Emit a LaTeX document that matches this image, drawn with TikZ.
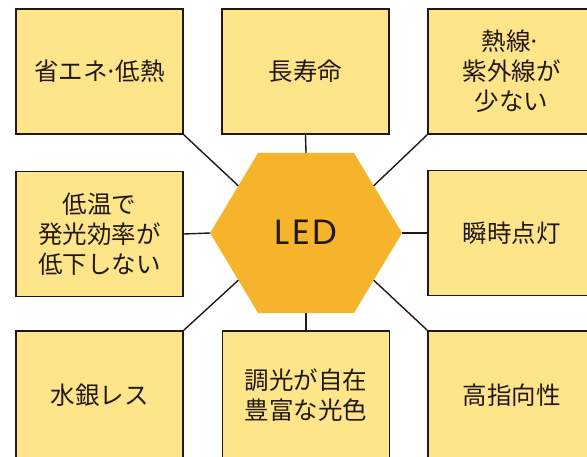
\documentclass[tikz,border=0pt]{standalone}
\usepackage{fontspec}
\setmainfont{Noto Sans CJK JP}
\newfontfamily\ledfont[LetterSpace=6]{Poppins}
\usetikzlibrary{calc}
\definecolor{ink}{HTML}{231815}
\definecolor{boxfill}{HTML}{FFE58A}
\definecolor{hexfill}{HTML}{F6B42D}
\newcommand{\tightdot}{\kern-3bp·\kern-3bp}
\tikzset{
  featbox/.style={draw=ink, line width=1.5bp, fill=boxfill, minimum width=167bp, minimum height=125bp,
    inner sep=0pt, align=center, text=ink, font=\fontsize{24.5bp}{30bp}\selectfont},
  tallbox/.style={featbox, minimum height=128bp},
  conn/.style={draw=ink, line width=1.4bp}
}
\begin{document}
\begin{tikzpicture}[x=1bp,y=-1bp]
\useasboundingbox (0,0) rectangle (587,457);
% hexagon
\coordinate (hL) at (210,233);
\coordinate (hTL) at (258,153);
\coordinate (hTR) at (354,153);
\coordinate (hR) at (402,233);
\coordinate (hBR) at (354,313);
\coordinate (hBL) at (258,313);
\fill[hexfill] (hL) -- (hTL) -- (hTR) -- (hR) -- (hBR) -- (hBL) -- cycle;
\node[text=ink, font=\ledfont\fontsize{35bp}{40bp}\selectfont] (led) at (306,232) {LED};
% boxes
\node[featbox] (tl) at (99.5,71.5) {省エネ\tightdot 低熱};
\node[featbox] (tm) at (305.5,71.5) {長寿命};
\node[featbox] (tr) at (511.5,71.5) {熱線\kern-3bp·\\紫外線が\\少ない};
\node[featbox] (ml) at (99.5,234) {低温で\\発光効率が\\低下しない};
\node[featbox] (mr) at (511.5,233) {瞬時点灯};
\node[tallbox] (bl) at (99.5,395) {水銀レス};
\node[tallbox] (bm) at (306,395) {調光が自在\\豊富な光色};
\node[tallbox] (br) at (511.5,395) {高指向性};
% connectors
\draw[conn] (tl.south east) -- ($(hL)!0.59!(hTL)$);
\draw[conn] (tm.south) -- ($(hTL)!0.5!(hTR)$);
\draw[conn] (tr.south west) -- ($(hR)!0.59!(hTR)$);
\draw[conn] (ml.east) -- (hL);
\draw[conn] (mr.west) -- (hR);
\draw[conn] (bl.north east) -- ($(hL)!0.59!(hBL)$);
\draw[conn] (bm.north) -- ($(hBL)!0.5!(hBR)$);
\draw[conn] (br.north west) -- ($(hR)!0.59!(hBR)$);
\end{tikzpicture}
\end{document}
